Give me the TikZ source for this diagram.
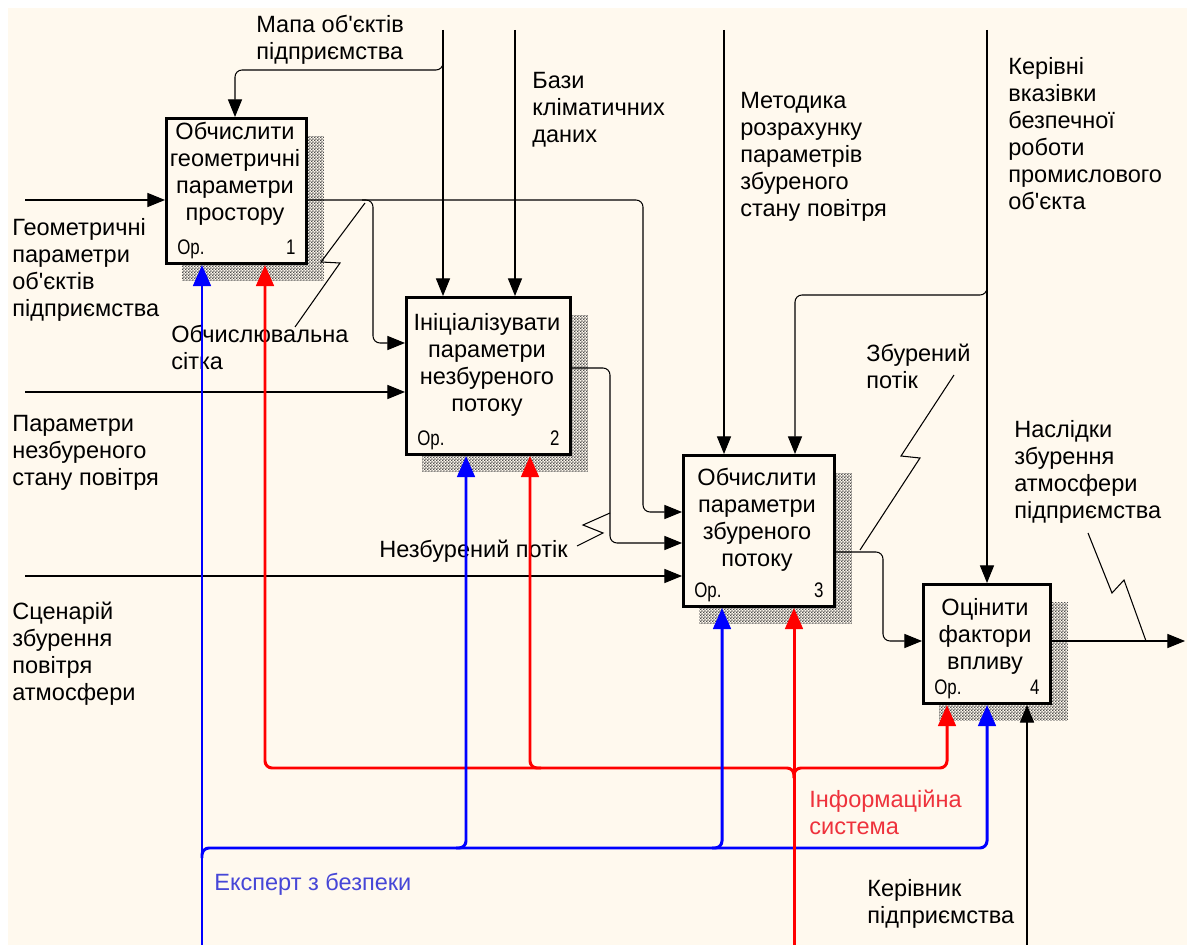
\documentclass[tikz,border=0pt]{standalone}
\usepackage{fontspec}
\setmainfont[Ligatures=TeXOff]{Liberation Sans}
\usetikzlibrary{arrows.meta,calc,patterns,backgrounds}

\definecolor{bgcream}{RGB}{255,249,238}
\definecolor{labred}{RGB}{238,50,60}
\definecolor{labblue}{RGB}{70,70,215}

% fine dotted shadow
\pgfdeclarepatternformonly{shadedots}{\pgfpointorigin}{\pgfqpoint{1.6pt}{1.6pt}}{\pgfqpoint{1.6pt}{1.6pt}}{%
  \pgfpathrectangle{\pgfpointorigin}{\pgfqpoint{0.8pt}{0.8pt}}%
  \pgfpathrectangle{\pgfqpoint{0.8pt}{0.8pt}}{\pgfqpoint{0.8pt}{0.8pt}}%
  \pgfusepath{fill}}

\tikzset{
  funcbox/.style={draw, line width=1.7pt, fill=bgcream, anchor=north west, inner sep=0pt},
  boxtxt/.style={anchor=north, align=center, inner sep=0pt, font=\fontsize{13.4}{15.4}\selectfont},
  lab/.style={anchor=north west, align=left, inner sep=0pt, font=\fontsize{13.4}{15.4}\selectfont},
  opnum/.style={inner sep=0pt, font=\fontsize{12}{13}\selectfont},
  arr/.style={line width=0.6pt, rounded corners=4pt, -{Triangle[length=10pt,width=8pt]}},
  redarr/.style={draw=red, line width=1.7pt, rounded corners=4pt, -{Triangle[length=12pt,width=10pt]}},
  bluearr/.style={draw=blue, line width=1.7pt, rounded corners=4pt, -{Triangle[length=12pt,width=10pt]}},
  leader/.style={line width=0.6pt}
}

\begin{document}
\begin{tikzpicture}[x=0.02cm, y=-0.02cm]
\useasboundingbox (0,0) rectangle (1187,945);

% Function boxes
\node[funcbox, minimum width=2.8cm, minimum height=2.9cm] (b1) at (165,117) {};
\node[funcbox, minimum width=3.28cm, minimum height=3.14cm] (b2) at (405,296) {};
\node[funcbox, minimum width=3.02cm, minimum height=3.02cm] (b3) at (682,454) {};
\node[funcbox, minimum width=2.54cm, minimum height=2.38cm] (b4) at (922,583) {};

% Box texts
\node[boxtxt] (t1) at (235,122) {Обчислити\\геометричні\\параметри\\простору};
\node[boxtxt] (t2) at (487,313) {Ініціалізувати\\параметри\\незбуреного\\потоку};
\node[boxtxt] (t3) at (757,468) {Обчислити\\параметри\\збуреного\\потоку};
\node[boxtxt] (t4) at (985,598) {Оцінити\\фактори\\впливу};

% Op. and numbers
\foreach \b/\n in {b1/1,b2/2,b3/3,b4/4}{
  \node[opnum, anchor=base west] (op\n) at ($(\b.south west)+(12,-10)$) {\scalebox{0.8}[1]{Ор.}};
  \node[opnum, anchor=base east] (nr\n) at ($(\b.south east)+(-12,-10)$) {\scalebox{0.8}[1]{\n}};
}

% Free ends and bends
\coordinate (in1s) at (25,200);
\coordinate (in2s) at (25,392);
\coordinate (in3s) at (25,576);
\coordinate (c1s) at (443,30);
\coordinate (c2s) at (515,30);
\coordinate (c3s) at (724,30);
\coordinate (c4s) at (987,30);
\coordinate (m1s) at (202,945);
\coordinate (m2s) at (794,945);
\coordinate (m3s) at (1027,945);
\coordinate (out4e) at (1185,641);
\coordinate (o1) at (643,200);
\coordinate (k1) at (643,512);
\coordinate (j2) at (362,200);
\coordinate (k2) at (373,343);
\coordinate (o2) at (610,368);
\coordinate (k3) at (610,543);
\coordinate (o3) at (883,552);
\coordinate (k4) at (883,641);
\coordinate (j1) at (443,52);
\coordinate (k6) at (235,70);
\coordinate (j4) at (987,283);
\coordinate (k5) at (795,295);

% Inputs
\draw[arr] (in1s) -- (in1s -| b1.west);
\draw[arr] (in2s) -- (in2s -| b2.west);
\draw[arr] (in3s) -- (in3s -| b3.west);

% Controls
\draw[arr] (c1s) -- (c1s |- b2.north);
\draw[arr] (j1) |- (k6) -- (k6 |- b1.north);
\draw[arr] (c2s) -- (c2s |- b2.north);
\draw[arr] (c3s) -- (c3s |- b3.north);
\draw[arr] (c4s) -- (c4s |- b4.north);
\draw[arr] (j4) |- (k5) -- (k5 |- b3.north);

% Outputs
\draw[arr] (o1 -| b1.east) -- (o1) -- (k1) -- (k1 -| b3.west);
\draw[arr] (j2) -| (k2) -- (k2 -| b2.west);
\draw[arr] (o2 -| b2.east) -- (o2) -- (k3) -- (k3 -| b3.west);
\draw[arr] (o3 -| b3.east) -- (o3) -- (k4) -- (k4 -| b4.west);
\draw[arr] (out4e -| b4.east) -- (out4e);

% Labels
\node[lab] (lgeo) at (12,218) {Геометричні\\параметри\\об'єктів\\підприємства};
\node[lab] (lpar) at (12,415) {Параметри\\незбуреного\\стану повітря};
\node[lab] (lscen) at (12,602) {Сценарій\\збурення\\повітря\\атмосфери};
\node[lab] (lsitka) at (171,325) {Обчислювальна\\сітка};
\node[lab] (lmapa) at (256,15) {Мапа об'єктів\\підприємства};
\node[lab] (lbazy) at (532,72) {Бази\\кліматичних\\даних};
\node[lab] (lmet) at (740,92) {Методика\\розрахунку\\параметрів\\збуреного\\стану повітря};
\node[lab] (lker) at (1008,57) {Керівні\\вказівки\\безпечної\\роботи\\промислового\\об'єкта};
\node[lab] (lzb) at (866,344) {Збурений\\потік};
\node[lab] (lnasl) at (1014,420) {Наслідки\\збурення\\атмосфери\\підприємства};
\node[lab] (lnezb) at (379,540) {Незбурений потік};
\node[lab, text=labred] (linf) at (809,790) {Інформаційна\\система};
\node[lab, text=labblue] (lexp) at (214,873) {Експерт з безпеки};
\node[lab] (lkerp) at (867,879) {Керівник\\підприємства};

% Squiggle leaders
\draw[leader] (365,203) -- (321,262) -- (340,263) -- (295,327);
\draw[leader] (577,546) -- (603,533) -- (583,525) -- (610,513);
\draw[leader] (954,375) -- (901,456) -- (920,458) -- (860,550);
\draw[leader] (1088,533) -- (1112,593) -- (1124,580) -- (1146,641);

% Information system (red)
\coordinate (jr) at (794,778);
\coordinate (kr1) at (265,768);
\coordinate (kr4) at (947,768);
\coordinate (jr2) at (541,768);
\coordinate (xr2) at (530,0);
\draw[redarr] (jr) |- (kr1) -- (kr1 |- b1.south);
\draw[redarr] (jr) |- (kr4) -- (kr4 |- b4.south);
\draw[redarr] (jr2) -| (xr2 |- b2.south);

% Safety expert (blue)
\coordinate (jb) at (202,858);
\coordinate (kb4) at (987,848);
\coordinate (jb2) at (456,848);
\coordinate (xb2) at (466,0);
\coordinate (jb3) at (712,848);
\coordinate (xb3) at (722,0);
\draw[bluearr] (m1s) -- (m1s |- b1.south);
\draw[bluearr] (jb) |- (kb4) -- (kb4 |- b4.south);
\draw[bluearr] (jb2) -| (xb2 |- b2.south);
\draw[bluearr] (jb3) -| (xb3 |- b3.south);

\draw[redarr] (m2s) -- (m2s |- b3.south);

% Manager
\draw[arr] (m3s) -- (m3s |- b4.south);

% Background and shadows
\begin{scope}[on background layer]
\fill[white] (0,0) rectangle (1187,945);
\fill[bgcream] (8,8) rectangle (1187,945);
\foreach \b in {b1,b2,b3,b4}
  \fill[pattern=shadedots, pattern color=black!70] ($(\b.north west)+(17,20)$) rectangle ($(\b.south east)+(16,16)$);
\end{scope}
\end{tikzpicture}
\end{document}
